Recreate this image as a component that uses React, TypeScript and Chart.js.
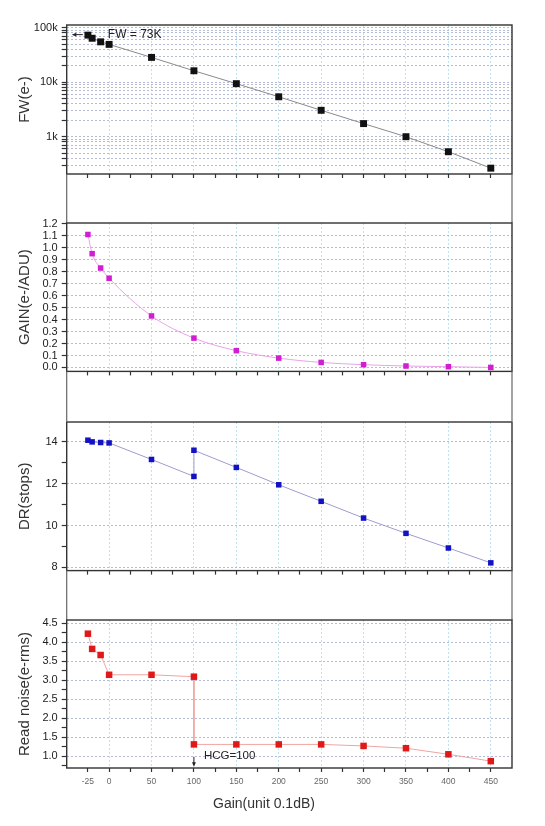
import React, { useEffect, useRef } from "react";
import { Chart, registerables } from "chart.js";

Chart.register(...registerables);

// ---------------- data ----------------
const gainFW = [-25, -20, -10, 0, 50, 100, 150, 200, 250, 300, 350, 400, 450];
const fullWell = [73000, 64000, 55000, 49400, 28500, 16200, 9400, 5400, 3050, 1740, 1000, 530, 265];

const gainConv = [-25, -20, -10, 0, 50, 100, 150, 200, 250, 300, 350, 400, 450];
const conversionGain = [1.11, 0.95, 0.83, 0.745, 0.43, 0.245, 0.14, 0.078, 0.042, 0.023, 0.012, 0.006, 0.0];

const gainDR = [-25, -20, -10, 0, 50, 100, 100, 150, 200, 250, 300, 350, 400, 450];
const dynamicRange = [14.08, 14.0, 13.97, 13.95, 13.16, 12.35, 13.6, 12.78, 11.95, 11.16, 10.36, 9.63, 8.93, 8.22];

const gainRN = [-25, -20, -10, 0, 50, 100, 100, 150, 200, 250, 300, 350, 400, 450];
const readNoise = [4.22, 3.82, 3.66, 3.14, 3.14, 3.09, 1.31, 1.31, 1.31, 1.31, 1.27, 1.21, 1.05, 0.87];

// ---------------- ticks ----------------
const xTicks = [-25, 0, 25, 50, 75, 100, 125, 150, 175, 200, 225, 250, 275, 300, 325, 350, 375, 400, 425, 450];
const xLabelled = [-25, 0, 50, 100, 150, 200, 250, 300, 350, 400, 450];
const xGridValues = [0, 50, 100, 150, 200, 250, 300, 350, 400, 450];

const fwTicks = [
  300, 400, 500, 600, 700, 800, 900,
  1000, 2000, 3000, 4000, 5000, 6000, 7000, 8000, 9000,
  10000, 20000, 30000, 40000, 50000, 60000, 70000, 80000, 90000, 100000,
];
const fwLabelValues = [1000, 10000, 100000];
const fwLabelTexts = ["1k", "10k", "100k"];

const gainTicks = [0, 0.1, 0.2, 0.3, 0.4, 0.5, 0.6, 0.7, 0.8, 0.9, 1.0, 1.1, 1.2];
const drTicks = [8, 9, 10, 11, 12, 13, 14];
const drLabelled = [8, 10, 12, 14];
const rnTicks = [0.75, 1.0, 1.25, 1.5, 1.75, 2.0, 2.25, 2.5, 2.75, 3.0, 3.25, 3.5, 3.75, 4.0, 4.25, 4.5];
const rnLabelled = [1.0, 1.5, 2.0, 2.5, 3.0, 3.5, 4.0, 4.5];

// ---------------- layout ----------------
const W = 545;
const H = 826;
const AREA_LEFT = 66.7;
const AREA_RIGHT = 512;
const PAD_TOP = 22;
const PAD_LEFT = 12;
const FONT = "'Liberation Sans', Arial, Helvetica, sans-serif";
const CLEAR = "rgba(0,0,0,0)";
const HGRID = "#b4bcd6";
const VGRID = "#bfe3ee";

const panels = [
  { top: 25, bottom: 174 },
  { top: 223.3, bottom: 371.7 },
  { top: 421.7, bottom: 570.3 },
  { top: 620, bottom: 768 },
];

const near = (a: number, list: number[]) => list.some((v) => Math.abs(v - a) < 1e-6);

function drawArrow(ctx: CanvasRenderingContext2D, x1: number, y1: number, x2: number, y2: number) {
  const ang = Math.atan2(y2 - y1, x2 - x1);
  const hl = 5;
  ctx.beginPath();
  ctx.moveTo(x1, y1);
  ctx.lineTo(x2 - Math.cos(ang) * 3, y2 - Math.sin(ang) * 3);
  ctx.stroke();
  ctx.beginPath();
  ctx.moveTo(x2, y2);
  ctx.lineTo(x2 - hl * Math.cos(ang - 0.4), y2 - hl * Math.sin(ang - 0.4));
  ctx.lineTo(x2 - hl * Math.cos(ang + 0.4), y2 - hl * Math.sin(ang + 0.4));
  ctx.closePath();
  ctx.fill();
}

function makeX(showLabels: boolean, canvasH: number, areaH: number) {
  return {
    type: "linear",
    min: -50,
    max: 475,
    afterBuildTicks: (s: any) => {
      s.ticks = xTicks.map((v) => ({ value: v }));
    },
    afterFit: (s: any) => {
      s.height = canvasH - PAD_TOP - areaH;
    },
    grid: {
      color: (c: any) => (c.tick && near(c.tick.value, xGridValues) ? VGRID : CLEAR),
      lineWidth: 1,
      drawTicks: true,
      tickLength: 4,
      tickColor: "#333",
      tickWidth: 1.2,
    },
    border: { display: false, dash: [2, 2] },
    ticks: {
      display: showLabels,
      autoSkip: false,
      maxRotation: 0,
      minRotation: 0,
      padding: 5,
      color: "#666",
      font: { family: FONT, size: 8.5 },
      callback: (v: number) => (near(v, xLabelled) ? String(v) : ""),
    },
  };
}

function makeY(opts: any) {
  return {
    type: opts.type,
    min: opts.min,
    max: opts.max,
    afterBuildTicks: (s: any) => {
      s.ticks = opts.ticks.map((v: number) => ({ value: v }));
    },
    afterFit: (s: any) => {
      s.width = AREA_LEFT - PAD_LEFT;
    },
    grid: {
      color: (c: any) => (c.tick && opts.grid(c.tick.value) ? HGRID : CLEAR),
      lineWidth: 1,
      drawTicks: true,
      tickLength: 5,
      tickColor: "#333",
      tickWidth: 1.2,
    },
    border: { display: false, dash: [2, 2] },
    ticks: {
      autoSkip: false,
      padding: 4,
      color: "#222",
      font: { family: FONT, size: 11 },
      callback: opts.label,
    },
    title: {
      display: true,
      text: opts.title,
      color: "#333",
      font: { family: FONT, size: 15 },
      padding: { top: 4, bottom: 0 },
    },
  };
}

const panelDefs = [
  {
    xs: gainFW,
    ys: fullWell,
    color: "#111111",
    line: "#8a8a8a",
    radius: 4.9,
    smooth: false,
    y: {
      type: "logarithmic",
      min: 207,
      max: 112000,
      ticks: fwTicks,
      grid: () => true,
      label: (v: number) => {
        const i = fwLabelValues.indexOf(v);
        return i >= 0 ? fwLabelTexts[i] : "";
      },
      title: "FW(e-)",
    },
  },
  {
    xs: gainConv,
    ys: conversionGain,
    color: "#d21ed2",
    line: "#eaa2ea",
    radius: 3.9,
    smooth: true,
    y: {
      type: "linear",
      min: -0.033,
      max: 1.206,
      ticks: gainTicks,
      grid: (v: number) => v < 1.15,
      label: (v: number) => (near(v, gainTicks) ? v.toFixed(1) : ""),
      title: "GAIN(e-/ADU)",
    },
  },
  {
    xs: gainDR,
    ys: dynamicRange,
    color: "#1212c4",
    line: "#9c9cd0",
    radius: 3.9,
    smooth: false,
    y: {
      type: "linear",
      min: 7.85,
      max: 14.95,
      ticks: drTicks,
      grid: (v: number) => near(v, drLabelled),
      label: (v: number) => (near(v, drLabelled) ? String(v) : ""),
      title: "DR(stops)",
    },
  },
  {
    xs: gainRN,
    ys: readNoise,
    color: "#e01818",
    line: "#f0a4a4",
    radius: 4.6,
    smooth: false,
    y: {
      type: "linear",
      min: 0.69,
      max: 4.58,
      ticks: rnTicks,
      grid: (v: number) => near(v, rnLabelled),
      label: (v: number) => (near(v, rnLabelled) ? v.toFixed(1) : ""),
      title: "Read noise(e-rms)",
    },
  },
];

function framePlugin(hasGap: boolean) {
  return {
    id: "frame",
    afterDraw(chart: any) {
      const { ctx, chartArea } = chart;
      const { left, right, top, bottom } = chartArea;
      ctx.save();
      ctx.strokeStyle = "#333";
      ctx.lineWidth = 1.4;
      ctx.strokeRect(left, top, right - left, bottom - top);
      if (hasGap) {
        ctx.strokeStyle = "#666";
        ctx.lineWidth = 1.2;
        ctx.beginPath();
        ctx.moveTo(left, bottom);
        ctx.lineTo(left, chart.height);
        ctx.moveTo(right, bottom);
        ctx.lineTo(right, chart.height);
        ctx.stroke();
      }
      ctx.restore();
    },
  };
}

function annotationPlugin(index: number) {
  return {
    id: "notes" + index,
    afterDraw(chart: any) {
      const { ctx, chartArea } = chart;
      const xs = chart.scales.x;
      const ys = chart.scales.y;
      ctx.save();
      ctx.fillStyle = "#222";
      ctx.strokeStyle = "#222";
      ctx.lineWidth = 1;
      if (index === 0) {
        const y = ys.getPixelForValue(73000) - 0.5;
        drawArrow(ctx, xs.getPixelForValue(-31), y, chartArea.left + 5, y);
        ctx.font = `12px ${FONT}`;
        ctx.textBaseline = "middle";
        ctx.textAlign = "left";
        ctx.fillText("FW = 73K", xs.getPixelForValue(-1.5), y + 0.5);
      }
      if (index === 3) {
        const x = xs.getPixelForValue(100);
        drawArrow(ctx, x, ys.getPixelForValue(0.98), x, ys.getPixelForValue(0.72));
        ctx.font = `11.5px ${FONT}`;
        ctx.textBaseline = "middle";
        ctx.textAlign = "left";
        ctx.fillText("HCG=100", x + 10, ys.getPixelForValue(1.0));
        // x-axis title
        ctx.fillStyle = "#333";
        ctx.font = `14px ${FONT}`;
        ctx.textAlign = "center";
        ctx.fillText(
          "Gain(unit 0.1dB)",
          chartArea.left + (chartArea.right - chartArea.left) * 0.443,
          chartArea.bottom + 36
        );
      }
      ctx.restore();
    },
  };
}

function Panel({ index }: { index: number }) {
  const ref = useRef<HTMLCanvasElement | null>(null);
  const p = panels[index];
  const canvasTop = p.top - PAD_TOP;
  const canvasBottom = index < panels.length - 1 ? panels[index + 1].top : H;
  const canvasH = Math.round(canvasBottom - canvasTop);
  const areaH = p.bottom - p.top;

  useEffect(() => {
    if (!ref.current) return;
    const def = panelDefs[index];
    const chart = new Chart(ref.current, {
      type: "line",
      data: {
        datasets: [
          {
            data: def.xs.map((x, i) => ({ x, y: def.ys[i] })),
            borderColor: def.line,
            borderWidth: 1,
            pointStyle: "rect",
            pointRadius: def.radius,
            pointBackgroundColor: def.color,
            pointBorderColor: def.color,
            pointBorderWidth: 0,
            cubicInterpolationMode: def.smooth ? "monotone" : "default",
            tension: 0,
            clip: false,
          } as any,
        ],
      },
      options: {
        animation: false,
        responsive: false,
        maintainAspectRatio: false,
        events: [],
        layout: { padding: { top: PAD_TOP, left: PAD_LEFT, right: W - AREA_RIGHT, bottom: 0 } },
        plugins: { legend: { display: false }, tooltip: { enabled: false } },
        scales: {
          x: makeX(index === 3, canvasH, areaH) as any,
          y: makeY(def.y) as any,
        },
      },
      plugins: [framePlugin(index < 3), annotationPlugin(index)],
    });
    return () => chart.destroy();
  }, [index, canvasH, areaH]);

  return (
    <canvas
      ref={ref}
      width={W}
      height={canvasH}
      style={{ position: "absolute", left: 0, top: canvasTop, width: W, height: canvasH }}
    />
  );
}

export default function App() {
  return (
    <div
      style={{
        position: "absolute",
        left: 0,
        top: 0,
        width: W,
        height: H,
        background: "#ffffff",
        overflow: "hidden",
      }}
    >
      {panels.map((_, i) => (
        <Panel key={i} index={i} />
      ))}
    </div>
  );
}
